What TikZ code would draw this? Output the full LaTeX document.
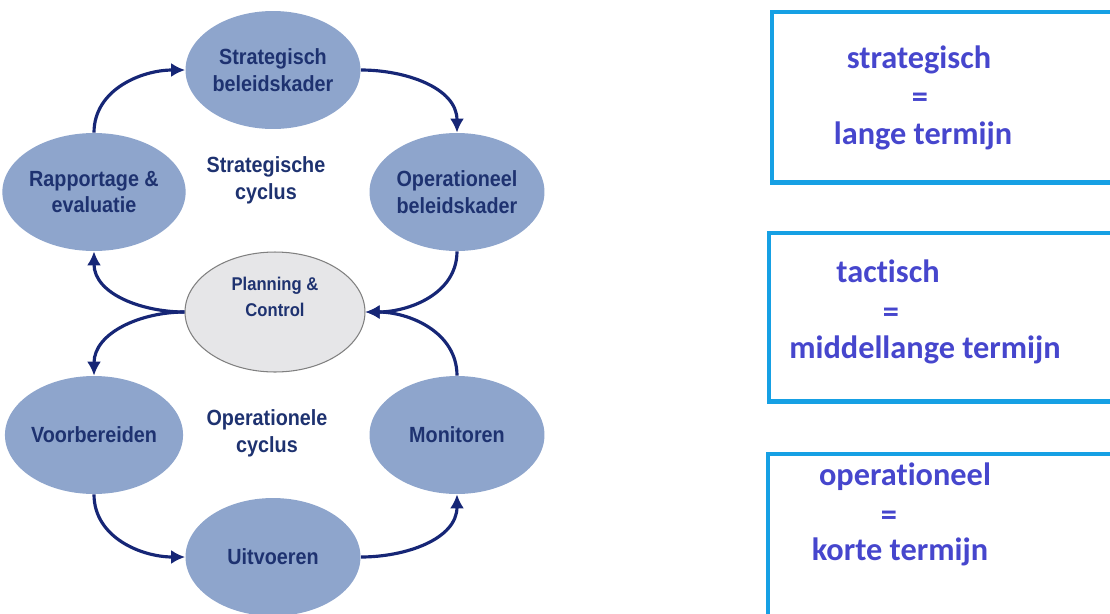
\documentclass[tikz,border=0pt]{standalone}
\usepackage{fontspec}
\setmainfont{Liberation Sans}
\newfontfamily\cyclefont[FakeStretch=0.9]{Liberation Sans}
\newfontfamily\termfont[Ligatures=NoCommon]{Carlito}
\usetikzlibrary{shapes.geometric,arrows.meta}
\definecolor{cyclefill}{RGB}{142,165,204}
\definecolor{cycletext}{RGB}{30,50,112}
\definecolor{cyclearrow}{RGB}{22,38,118}
\definecolor{pcfill}{RGB}{230,230,232}
\definecolor{pcline}{RGB}{128,128,128}
\definecolor{boxline}{RGB}{22,160,228}
\definecolor{termtext}{RGB}{70,70,205}
\begin{document}
\begin{tikzpicture}[x=0.02cm, y=0.02cm,
  phase/.style={ellipse, fill=cyclefill, minimum width=3.5cm, minimum height=2.36cm, inner sep=0pt, align=center, text=cycletext, font=\cyclefont\bfseries\fontsize{12.5}{15.3}\selectfont},
  pc/.style={ellipse, fill=pcfill, draw=pcline, line width=0.6pt, minimum width=3.6cm, minimum height=2.4cm, inner sep=0pt},
  pclabel/.style={align=center, text=cycletext, font=\cyclefont\bfseries\fontsize{10.5}{15}\selectfont},
  cyclelabel/.style={align=center, text=cycletext, font=\cyclefont\bfseries\fontsize{12.5}{15.3}\selectfont},
  flow/.style={draw=cyclearrow, line width=1.8pt, -{Latex[length=8pt,width=8pt]}},
  termbox/.style={draw=boxline, line width=2.8pt, anchor=north west, minimum width=8cm, inner sep=0pt},
  term/.style={anchor=base, text=termtext, font=\termfont\bfseries\fontsize{18.4}{22}\selectfont}]
\useasboundingbox (0,0) rectangle (1110,-613);
\clip (0,0) rectangle (1110,-613);
\node[phase] (strat) at (273,-70)  {Strategisch\\beleidskader};
\node[phase] (rapp)  at (94,-192)  {Rapportage \&\\evaluatie};
\node[phase] (oper)  at (457,-192) {Operationeel\\beleidskader};
\node[pc]    (pc)    at (275,-312) {};
\node[pclabel] (pctext) at (275,-297) {Planning \&\\Control};
\node[phase] (voor)  at (94,-435)  {Voorbereiden};
\node[phase] (moni)  at (457,-435) {Monitoren};
\node[phase] (uitv)  at (273,-557) {Uitvoeren};
\node[cyclelabel] (strcycle) at (266,-180) {Strategische\\cyclus};
\node[cyclelabel] (opcycle)  at (267,-433) {Operationele\\cyclus};
\draw[flow] (rapp.north) to[out=90,in=180] (strat.west);
\draw[flow] (strat.east) to[out=0,in=90] (oper.north);
\draw[flow] (oper.south) to[out=-90,in=0] (pc.east);
\draw[flow] (moni.north) to[out=90,in=0] (pc.east);
\draw[flow] (pc.west) to[out=180,in=-90] (rapp.south);
\draw[flow] (pc.west) to[out=180,in=90] (voor.north);
\draw[flow] (voor.south) to[out=-90,in=180] (uitv.west);
\draw[flow] (uitv.east) to[out=0,in=-90] (moni.south);
\node[termbox, minimum height=3.42cm] (longbox)  at (769.5,-9.5)  {};
\node[termbox, minimum height=3.38cm] (midbox)   at (766.5,-230.5) {};
\node[termbox, minimum height=4cm]    (shortbox) at (765.5,-451.5) {};
\node[term] (strat1) at (919,-68)  {strategisch};
\node[term] (strat2) at (920,-107) {=};
\node[term] (strat3) at (923,-144) {lange termijn};
\node[term] (tact1)  at (888,-282) {tactisch};
\node[term] (tact2)  at (891,-322) {=};
\node[term] (tact3)  at (925,-358) {middellange termijn};
\node[term] (oper1)  at (905,-485) {operationeel};
\node[term] (oper2)  at (889,-525) {=};
\node[term] (oper3)  at (900,-560) {korte termijn};
\end{tikzpicture}
\end{document}
